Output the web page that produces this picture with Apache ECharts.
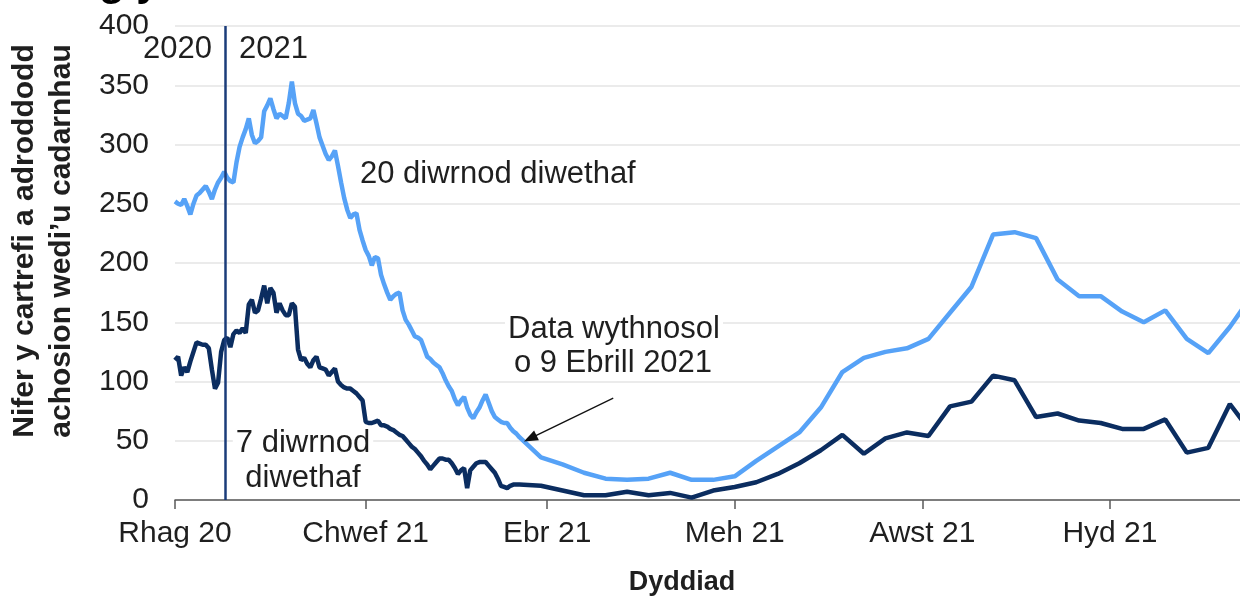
<!DOCTYPE html>
<html>
<head>
<meta charset="utf-8">
<script src="https://cdn.jsdelivr.net/npm/echarts@6/dist/echarts.min.js"></script>
<style>html,body{margin:0;padding:0;background:#fff;}#c{width:1240px;height:597px;}</style>
</head>
<body>
<div id="c"></div>
<script>
// x values are days since 1 Dec 2020
const tickDays = [0, 62, 121, 182, 243, 304];
const tickLabels = ['Rhag 20', 'Chwef 21', 'Ebr 21', 'Meh 21', 'Awst 21', 'Hyd 21'];
const yearLineDay = 16.4;

// daily data (day 0 .. 112)
const daily20 = [252,250,249,254,248,241,250,257,259,262,265,260,254,262,268,272,277,272,269,268,
  285,298,306,313,322,308,301,303,306,328,333,339,330,322,326,324,322,335,353,335,
  326,324,320,321,322,329,318,306,299,292,287,290,295,282,268,255,245,238,241,242,
  228,219,211,206,198,205,204,190,182,175,169,172,174,175,160,152,148,143,138,137,
  135,128,121,119,116,114,112,107,101,96,92,85,80,84,87,78,72,69,74,78,
  84,89,82,75,70,68,66,65,65,61,58,56,53];
const daily7 = [118,121,105,112,108,117,125,133,132,131,131,128,110,94,99,125,135,137,129,140,
  143,141,145,141,165,169,158,160,170,181,166,179,175,158,166,160,156,156,166,163,
  127,118,120,115,112,118,121,112,111,110,105,108,111,100,97,95,94,94,92,90,
  87,84,66,65,65,66,67,63,63,62,60,59,57,55,54,51,48,45,43,40,
  37,33,30,26,29,32,35,35,34,34,31,27,22,25,27,10,25,28,31,32,
  32,32,29,26,23,18,12,11,10,12,13,13,13];

// weekly data (from day 119, every 7 days)
const weeklyDays = [119,126,133,140,147,154,161,168,175,182,189,196,203,210,217,224,231,238,245,252,
  259,266,273,280,287,294,301,308,315,322,329,336,343,350];
const weekly20 = [36,30,23,18,17,18,23,17,17,20,33,45,57,78,108,120,125,128,136,158,
  180,224,226,221,186,172,172,159,150,160,136,124,146,172];
const weekly7 = [12,8,4,4,7,4,6,2,8,11,15,22,31,42,55,39,52,57,54,79,
  83,105,101,70,73,67,65,60,60,68,40,44,81,57];

function build(daily, weekly) {
  const out = daily.map((v, i) => [i, v]);
  weekly.forEach((v, i) => out.push([weeklyDays[i], v]));
  return out;
}

const FONT = "'Liberation Sans', Arial, sans-serif";
const LIGHT = '#56A2F7';
const DARK = '#0B2D60';
const TXT = '#1f1f1f';

function note(x, y, text, align) {
  return {type: 'text', x: x, y: y, z: 100,
    style: {text: text, font: "31px " + FONT, fill: TXT, align: align, verticalAlign: 'middle',
            backgroundColor: '#fff', padding: [0, 3]}};
}

const chart = echarts.init(document.getElementById('c'), null, {renderer: 'canvas'});
chart.setOption({
  animation: false,
  backgroundColor: '#fff',
  grid: {left: 175, right: 0, top: 26, bottom: 97, containLabel: false},
  xAxis: {
    type: 'value', min: 0, max: 346.3,
    axisLine: {show: true, lineStyle: {color: '#595959', width: 1.5}},
    axisTick: {show: true, customValues: tickDays, length: 9, lineStyle: {color: '#595959', width: 1.5}},
    axisLabel: {
      customValues: tickDays, margin: 19, fontSize: 30, color: TXT, fontFamily: FONT,
      formatter: v => tickLabels[tickDays.indexOf(v)] || ''
    },
    splitLine: {show: false}
  },
  yAxis: {
    type: 'value', min: 0, max: 400, interval: 50,
    axisLine: {show: false}, axisTick: {show: false},
    axisLabel: {fontSize: 30, color: TXT, fontFamily: FONT, margin: 26},
    splitLine: {show: true, lineStyle: {color: '#E4E4E4', width: 1.5}}
  },
  series: [
    {
      type: 'line', data: build(daily20, weekly20), showSymbol: false, symbol: 'none',
      lineStyle: {color: LIGHT, width: 4.5}, itemStyle: {color: LIGHT}, z: 3,
      markLine: {
        silent: true, animation: false,
        symbol: ['none', 'triangle'], symbolSize: [11, 14],
        lineStyle: {color: '#111', width: 1.3, type: 'solid'},
        label: {show: false},
        data: [[{coord: [142.5, 86]}, {coord: [115.5, 52]}]]
      }
    },
    {
      type: 'line', data: build(daily7, weekly7), showSymbol: false, symbol: 'none',
      lineStyle: {color: DARK, width: 4.5}, itemStyle: {color: DARK}, z: 4,
      markLine: {
        silent: true, animation: false, symbol: ['none', 'none'],
        lineStyle: {color: '#1B3C7A', width: 2.5, type: 'solid'},
        label: {show: false},
        data: [{xAxis: yearLineDay}]
      }
    }
  ],
  graphic: [
    {type: 'text', left: 99, top: -38, style: {text: 'g y', font: "bold 42px " + FONT, fill: '#000'}},
    {type: 'text', x: 25, y: 241, rotation: Math.PI / 2,
     style: {text: 'Nifer y cartrefi a adroddodd', font: "bold 30px " + FONT, fill: TXT, align: 'center', verticalAlign: 'middle'}},
    {type: 'text', x: 62, y: 241, rotation: Math.PI / 2,
     style: {text: 'achosion wedi\u2019u cadarnhau', font: "bold 30px " + FONT, fill: TXT, align: 'center', verticalAlign: 'middle'}},
    {type: 'text', x: 682, y: 583,
     style: {text: 'Dyddiad', font: "bold 27px " + FONT, fill: TXT, align: 'center', verticalAlign: 'middle'}},
    note(215, 49, '2020', 'right'),
    note(236, 49, '2021', 'left'),
    note(357, 174, '20 diwrnod diwethaf', 'left'),
    note(614, 329, 'Data wythnosol', 'center'),
    note(613, 363, 'o 9 Ebrill 2021', 'center'),
    note(303, 443, '7 diwrnod', 'center'),
    note(303, 478, 'diwethaf', 'center')
  ]
});
</script>
</body>
</html>
